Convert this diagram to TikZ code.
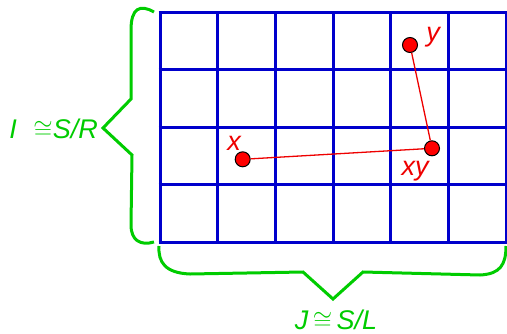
\documentclass[tikz,border=0pt]{standalone}
\usepackage{fontspec}
\setmainfont{Liberation Sans}
\definecolor{gridblue}{RGB}{0,0,204}
\definecolor{bracegreen}{RGB}{0,204,0}
\definecolor{ptred}{RGB}{238,0,0}
\begin{document}
\begin{tikzpicture}[x=1pt,y=-1pt,
  gridline/.style={draw=gridblue,line width=3pt},
  bracecurve/.style={draw=bracegreen,line width=3pt,line join=miter},
  bracelabel/.style={text=bracegreen,font=\fontsize{27}{30}\selectfont\itshape,inner sep=0pt},
  ptlabel/.style={text=ptred,font=\fontsize{27}{30}\selectfont\itshape,inner sep=0pt},
  ptdot/.style={circle,fill=red,draw=black,line width=1pt,minimum size=15pt,inner sep=0pt},
  link/.style={draw=ptred,line width=1.3pt}]
\useasboundingbox (0,0) rectangle (507,333);
% grid
\foreach \i in {0,...,6}
  \draw[gridline] ({160+\i*57.67},12) -- ({160+\i*57.67},242);
\foreach \j in {0,...,4}
  \draw[gridline] (158.5,{12+\j*57.5}) -- (507.5,{12+\j*57.5});
% points
\node[ptdot] (px) at (242.7,159.3) {};
\node[ptdot] (py) at (410,45) {};
\node[ptdot] (pxy) at (432,148.3) {};
\draw[link] (px) -- (pxy);
\draw[link] (py) -- (pxy);
\node[ptlabel,anchor=base] (lx) at (234,150) {x};
\node[ptlabel,anchor=base] (ly) at (433,41) {y};
\node[ptlabel,anchor=base] (lxy) at (415,175) {xy};
% left brace
\draw[bracecurve] (154,12) .. controls (140,4) and (131,8) .. (131,30) -- (131,99) -- (103,128) -- (132,155) -- (131,225) .. controls (131,240) and (140,246) .. (154,242);
% bottom brace
\draw[bracecurve] (159,246) .. controls (158,262) and (165,273) .. (190,274) -- (303,272) -- (333,299) -- (363,272) -- (480,275) .. controls (500,274) and (506,265) .. (506,246);
% labels
\node[bracelabel,anchor=base east] (lI) at (98,138) {I\,\, $\cong$S/R};
\node[bracelabel,anchor=base] (lJ) at (336,329) {J\,$\cong$\,S/L};
\end{tikzpicture}
\end{document}
